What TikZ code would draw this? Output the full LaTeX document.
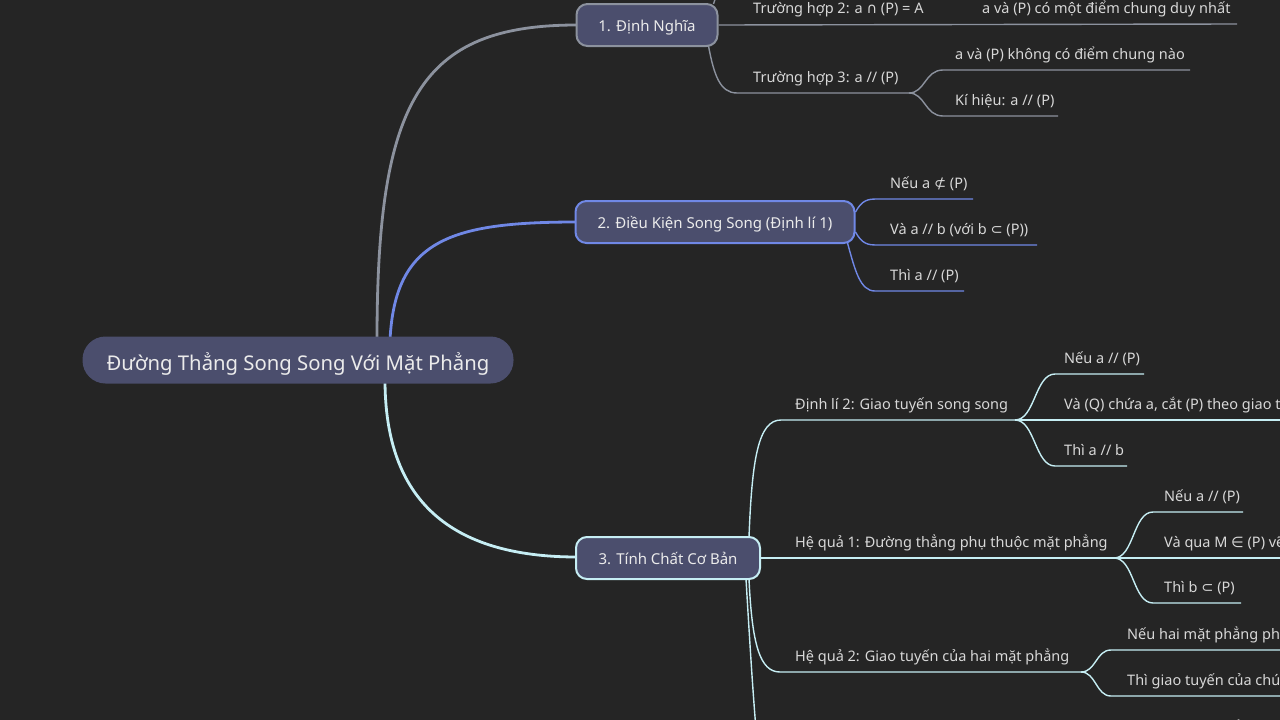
\documentclass[tikz,border=0pt]{standalone}
\usepackage{fontspec}
\setmainfont{Noto Sans}
\newfontfamily\symf{DejaVu Sans}
\definecolor{bgcol}{HTML}{252525}
\definecolor{topicfill}{HTML}{4B4E6D}
\definecolor{graybr}{HTML}{8C929E}
\definecolor{bluebr}{HTML}{7088E6}
\definecolor{cyanbr}{HTML}{C6EEF4}
\definecolor{leaftext}{HTML}{D8D8D8}
\tikzset{
  topic/.style = {fill = topicfill, line width = 2pt, rounded corners = 11pt, minimum height = 42pt,
    inner xsep = 0pt, text height = 15pt, text depth = 2.3pt, text = white!92!black, font = \fontsize{15}{18}\selectfont},
  leaf/.style = {anchor = base west, inner sep = 0pt, text = leaftext, font = \fontsize{14.5}{17}\selectfont},
  grayline/.style = {draw = graybr, line width = 1.4pt},
  blueline/.style = {draw = bluebr, line width = 1.4pt},
  cyanline/.style = {draw = cyanbr, line width = 1.4pt}
}
\begin{document}
\begin{tikzpicture}[x = 1pt, y = -1pt]
    \useasboundingbox[fill = bgcol] (0,0) rectangle (1280,720);

    \draw[graybr, line width = 2.8pt] (377,340) .. controls (377,100) and (420,25) .. (577,25);
    \draw[bluebr, line width = 2.8pt] (390,340) .. controls (395,240) and (450,222) .. (577,222);
    \draw[cyanbr, line width = 2.8pt] (385,380) .. controls (385,500) and (450,557) .. (577,557);

    \node[fill = topicfill, rounded corners = 23pt, minimum width = 431pt, minimum height = 47pt, inner xsep = 0pt,
      text height = 22pt, text depth = 2pt, text = white!92!black, font = \fontsize{20.3}{24}\selectfont] (root) at (298,360) {Đường Thẳng Song Song Với Mặt Phẳng};

    \node[topic, draw = graybr, minimum width = 141pt] (def) at (647,25) {1. Định Nghĩa};
    \node[topic, draw = bluebr, minimum width = 279pt] (cond) at (715,222) {2. Điều Kiện Song Song (Định lí 1)};
    \node[topic, draw = cyanbr, minimum width = 184pt] (prop) at (668,558) {3. Tính Chất Cơ Bản};

    \coordinate (t1) at (740,-45);
    \coordinate (f3) at (909,93);
    \draw[grayline] ([xshift = -5pt, yshift = -1pt]def.north east) .. controls (720,-15) and (725,-45) .. (t1) -- ++(120,0);
    \draw[grayline] (def.east) -- (1237,24);
    \draw[grayline] ([xshift = -10pt, yshift = 1pt]def.south east) .. controls (714,75) and (720,93) .. (737,93) -- (f3);
    \draw[grayline] (f3) .. controls (925,93) and (925,70) .. (943,70) -- (1190,70);
    \draw[grayline] (f3) .. controls (925,93) and (925,116) .. (943,116) -- (1058,116);
    \node[leaf] (case2) at (753,13) {Trường hợp 2: a {\symf ∩} (P) = A};
    \node[leaf] (case2a) at (982,13) {a và (P) có một điểm chung duy nhất};
    \node[leaf] (case3) at (753,82) {Trường hợp 3: a // (P)};
    \node[leaf] (case3a) at (955,59) {a và (P) không có điểm chung nào};
    \node[leaf] (case3b) at (955,105) {Kí hiệu: a // (P)};

    \draw[blueline] ([yshift = 10pt]cond.east) .. controls (862,200) and (868,199) .. (877,199) -- (973,199);
    \draw[blueline] ([yshift = -10pt]cond.east) .. controls (862,244) and (868,245) .. (877,245) -- (1037,245);
    \draw[blueline] ([xshift = -8pt, yshift = 1pt]cond.south east) .. controls (855,270) and (860,291) .. (875,291) -- (964,291);
    \node[leaf] (ifa) at (890,188) {Nếu a {\symf ⊄} (P)};
    \node[leaf] (andab) at (890,234) {Và a // b (với b {\symf ⊂} (P))};
    \node[leaf] (thena) at (890,280) {Thì a // (P)};

    \coordinate (f31) at (1015,420);
    \coordinate (f32) at (1114,558);
    \coordinate (f33) at (1081,672);
    \coordinate (f34) at (1020,843);
    \draw[cyanline] ([xshift = -12pt, yshift = -1pt]prop.north east) .. controls (752,460) and (758,420) .. (781,420) -- (f31);
    \draw[cyanline] (f31) .. controls (1035,420) and (1035,374) .. (1055,374) -- (1144,374);
    \draw[cyanline] (f31) -- (1300,420);
    \draw[cyanline] (f31) .. controls (1035,420) and (1035,466) .. (1055,466) -- (1127,466);
    \node[leaf] (thm2) at (795,409) {Định lí 2: Giao tuyến song song};
    \node[leaf] (thm2a) at (1064,363) {Nếu a // (P)};
    \node[leaf] (thm2b) at (1064,409) {Và (Q) chứa a, cắt (P) theo giao tuyến b};
    \node[leaf] (thm2c) at (1064,455) {Thì a // b};

    \draw[cyanline] (prop.east) -- (f32);
    \draw[cyanline] (f32) .. controls (1134,558) and (1133,512) .. (1153,512) -- (1243,512);
    \draw[cyanline] (f32) -- (1300,558);
    \draw[cyanline] (f32) .. controls (1134,558) and (1133,603) .. (1153,603) -- (1241,603);
    \node[leaf] (cor1) at (795,547) {Hệ quả 1: Đường thẳng phụ thuộc mặt phẳng};
    \node[leaf] (cor1a) at (1164,501) {Nếu a // (P)};
    \node[leaf] (cor1b) at (1164,547) {Và qua M {\symf ∈} (P) vẽ b // a};
    \node[leaf] (cor1c) at (1164,592) {Thì b {\symf ⊂} (P)};

    \draw[cyanline] ([xshift = -12pt, yshift = 1pt]prop.south east) .. controls (752,645) and (760,672) .. (780,672) -- (f33);
    \draw[cyanline] (f33) .. controls (1096,672) and (1096,650) .. (1111,650) -- (1300,650);
    \draw[cyanline] (f33) .. controls (1096,672) and (1096,696) .. (1111,696) -- (1300,696);
    \node[leaf] (cor2) at (795,661) {Hệ quả 2: Giao tuyến của hai mặt phẳng};
    \node[leaf] (cor2a) at (1127,639) {Nếu hai mặt phẳng phân biệt cùng song song với a};
    \node[leaf] (cor2b) at (1127,685) {Thì giao tuyến của chúng song song với a};

    \draw[cyanline] ([xshift = -15pt, yshift = 1pt]prop.south east) .. controls (752,680) and (757,760) .. (765,810) .. controls (770,840) and (780,843) .. (795,843) -- (f34);
    \draw[cyanline] (f34) .. controls (1035,843) and (1035,743) .. (1050,743) -- (1300,743);
    \node[leaf] (cor3a) at (1055,732) {Nếu a và b là hai đường thẳng chéo nhau};
\end{tikzpicture}
\end{document}
